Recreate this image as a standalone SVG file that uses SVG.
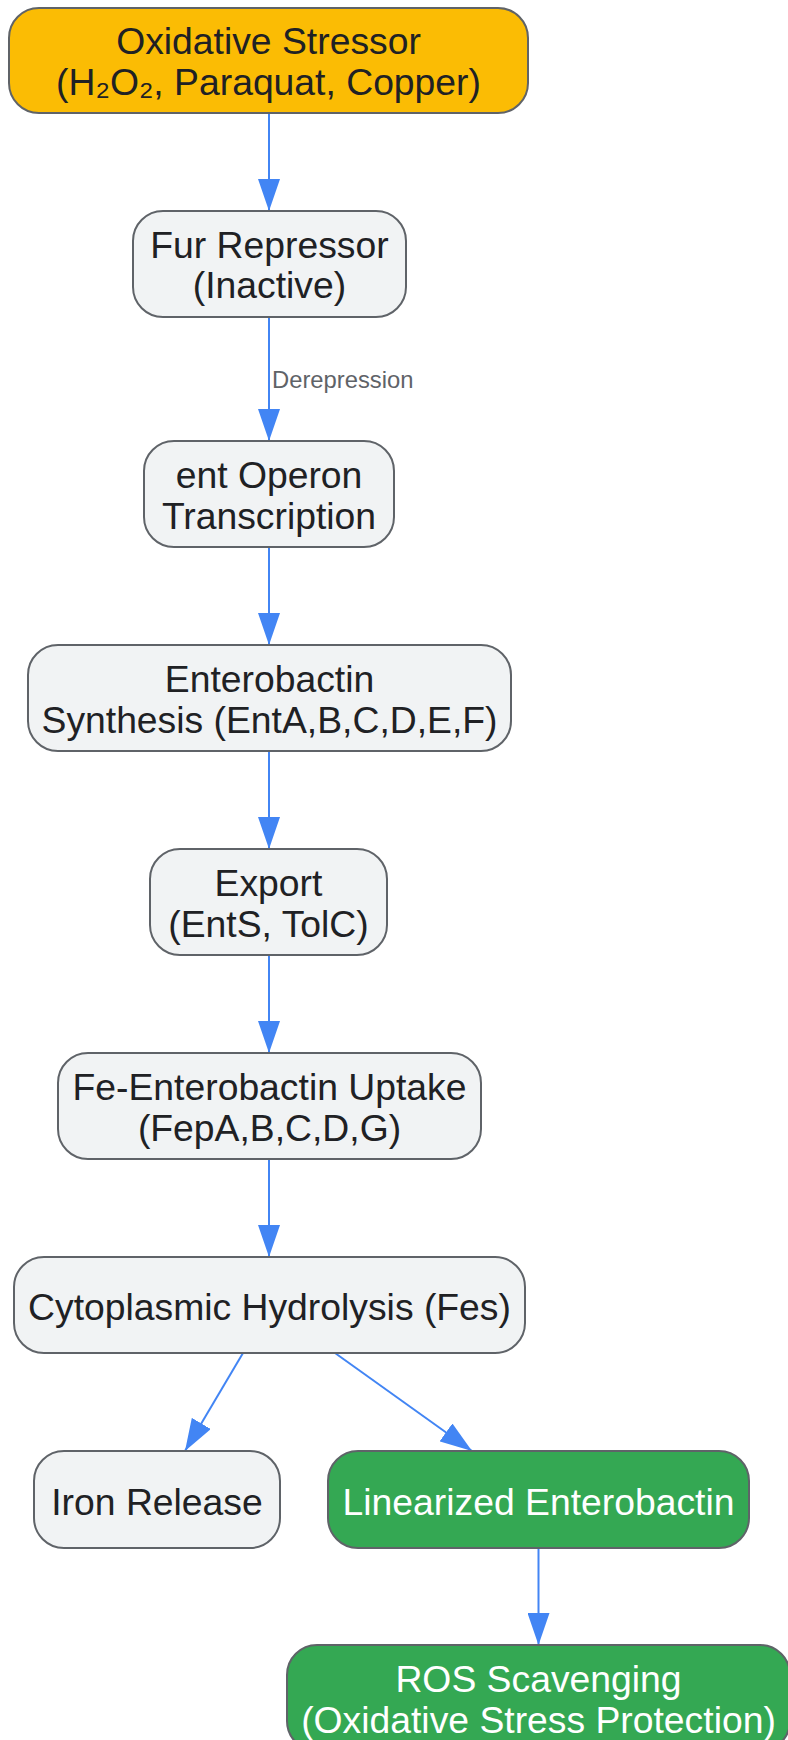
<svg xmlns="http://www.w3.org/2000/svg" width="788" height="1740" viewBox="0 0 788 1740">
<style>
.box{stroke:#5f6368;stroke-width:2}
.gray{fill:#f1f3f4}
.yellow{fill:#fbbc04}
.green{fill:#34a853}
.t{font-family:"Liberation Sans",Arial,sans-serif;font-size:37.3px;text-anchor:middle;fill:#202124}
.w{fill:#ffffff}
.edge{stroke:#4285f4;stroke-width:2;fill:none}
.lbl{font-family:"Liberation Sans",Arial,sans-serif;font-size:23.8px;fill:#5f6368}
</style>
<defs>
<marker id="arr" markerUnits="userSpaceOnUse" markerWidth="32" markerHeight="22" refX="32" refY="11" orient="auto">
<path d="M0,0 L32,11 L0,22 z" fill="#4285f4"/>
</marker>
</defs>
<rect width="788" height="1740" fill="#ffffff"/>
<g id="connectors">
<line class="edge" x1="269" y1="113" x2="269" y2="211" marker-end="url(#arr)"/>
<line class="edge" x1="269" y1="317" x2="269" y2="441" marker-end="url(#arr)"/>
<text class="lbl" x="272" y="388">Derepression</text>
<line class="edge" x1="269" y1="547" x2="269" y2="645" marker-end="url(#arr)"/>
<line class="edge" x1="269" y1="751" x2="269" y2="849" marker-end="url(#arr)"/>
<line class="edge" x1="269" y1="955" x2="269" y2="1053" marker-end="url(#arr)"/>
<line class="edge" x1="269" y1="1159" x2="269" y2="1257" marker-end="url(#arr)"/>
<line class="edge" x1="243" y1="1353" x2="185" y2="1451" marker-end="url(#arr)"/>
<line class="edge" x1="335" y1="1353" x2="472" y2="1451" marker-end="url(#arr)"/>
<line class="edge" x1="538.5" y1="1548" x2="538.5" y2="1645" marker-end="url(#arr)"/>
</g>
<g id="stressor">
<rect class="box yellow" x="9" y="8" width="519" height="105" rx="30"/>
<text class="t" x="268.5" y="54">Oxidative Stressor</text>
<text class="t" x="268.5" y="95">(H₂O₂, Paraquat, Copper)</text>
</g>
<g id="fur">
<rect class="box gray" x="133" y="211" width="273" height="106" rx="30"/>
<text class="t" x="269.5" y="258">Fur Repressor</text>
<text class="t" x="269.5" y="298">(Inactive)</text>
</g>
<g id="ent">
<rect class="box gray" x="144" y="441" width="250" height="106" rx="30"/>
<text class="t" x="269" y="487.5">ent Operon</text>
<text class="t" x="269" y="528.5">Transcription</text>
</g>
<g id="synthesis">
<rect class="box gray" x="28" y="645" width="483" height="106" rx="30"/>
<text class="t" x="269.5" y="691.5">Enterobactin</text>
<text class="t" x="269.5" y="732.5">Synthesis (EntA,B,C,D,E,F)</text>
</g>
<g id="export">
<rect class="box gray" x="150" y="849" width="237" height="106" rx="30"/>
<text class="t" x="268.5" y="895.5">Export</text>
<text class="t" x="268.5" y="936.5">(EntS, TolC)</text>
</g>
<g id="uptake">
<rect class="box gray" x="58" y="1053" width="423" height="106" rx="30"/>
<text class="t" x="269.5" y="1099.5">Fe-Enterobactin Uptake</text>
<text class="t" x="269.5" y="1140.5">(FepA,B,C,D,G)</text>
</g>
<g id="hydrolysis">
<rect class="box gray" x="14" y="1257" width="511" height="96" rx="30"/>
<text class="t" x="269.5" y="1319.5">Cytoplasmic Hydrolysis (Fes)</text>
</g>
<g id="iron">
<rect class="box gray" x="34" y="1451" width="246" height="97" rx="30"/>
<text class="t" x="157" y="1515">Iron Release</text>
</g>
<g id="linearized">
<rect class="box green" x="328" y="1451" width="421" height="97" rx="30"/>
<text class="t w" x="538.5" y="1515">Linearized Enterobactin</text>
</g>
<g id="ros">
<rect class="box green" x="287" y="1645" width="503" height="106" rx="30"/>
<text class="t w" x="538.5" y="1691.5">ROS Scavenging</text>
<text class="t w" x="538.5" y="1732.5">(Oxidative Stress Protection)</text>
</g>
</svg>
